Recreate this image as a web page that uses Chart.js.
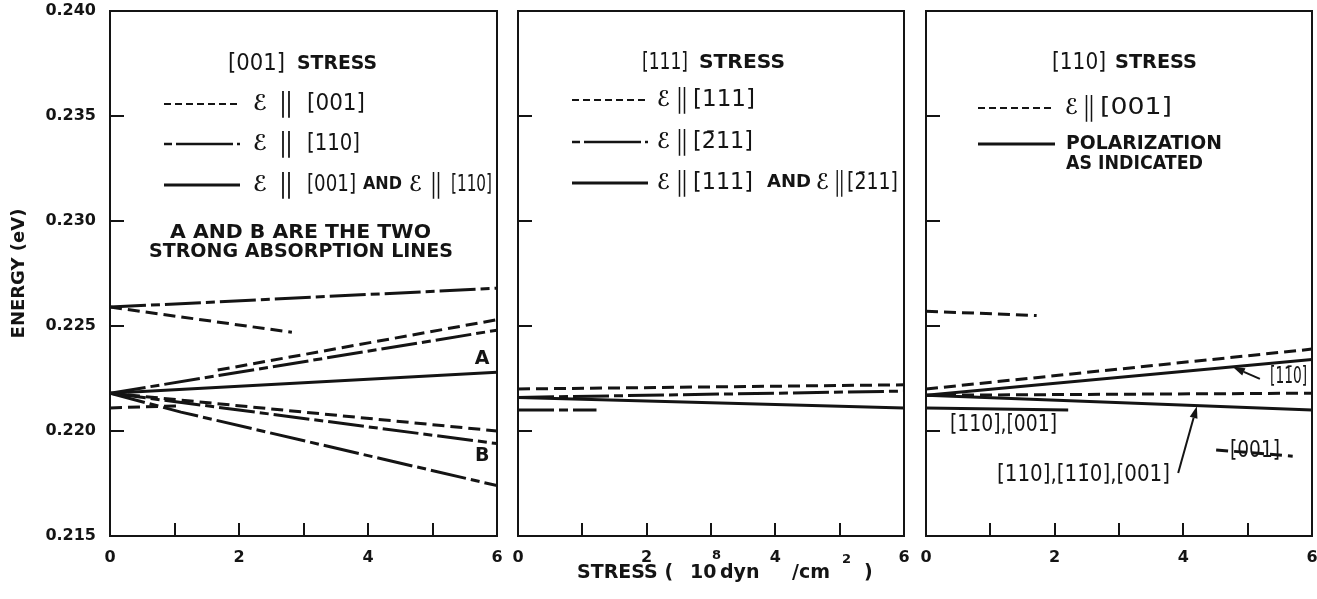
<!DOCTYPE html>
<html>
<head>
<meta charset="utf-8">
<script src="https://cdn.jsdelivr.net/npm/chart.js@4.4.1/dist/chart.umd.min.js"></script>
<style>
  html, body { margin: 0; padding: 0; background: #fff; }
  #wrap { position: relative; width: 1317px; height: 599px; overflow: hidden; background: #fff; }
  canvas { position: absolute; top: 0; }
</style>
</head>
<body>
<div id="wrap">
  <canvas id="p001" width="505" height="599" style="left:0px;width:505px;height:599px"></canvas>
  <canvas id="p111" width="410" height="599" style="left:505px;width:410px;height:599px"></canvas>
  <canvas id="p110" width="402" height="599" style="left:915px;width:402px;height:599px"></canvas>
</div>
<script>
// ---------- axes ----------
const stressTicks = [0, 1, 2, 3, 4, 5, 6];
const stressTickLabels = ['0', '', '2', '', '4', '', '6'];
const energyTicks = [0.215, 0.220, 0.225, 0.230, 0.235, 0.240];

// ---------- [001] stress: energy (eV) vs stress (10^8 dyn/cm^2) ----------
const s001ChainTopX = [0, 6];
const s001ChainTopY = [0.2259, 0.2268];
const s001DashTopX = [0, 2.82];
const s001DashTopY = [0.2259, 0.2247];
const s001DashRiseX = [1.67, 6];
const s001DashRiseY = [0.2229, 0.2253];
const s001ChainRiseX = [0, 6];
const s001ChainRiseY = [0.2218, 0.2248];
const s001LineAX = [0, 6];
const s001LineAY = [0.2218, 0.2228];
const s001DashLowX = [0, 1.1];
const s001DashLowY = [0.2211, 0.2212];
const s001DashFallX = [0, 6];
const s001DashFallY = [0.2218, 0.2200];
const s001LineBX = [0, 6];
const s001LineBY = [0.2218, 0.2194];
const s001ChainFallX = [0, 1.1, 6];
const s001ChainFallY = [0.2218, 0.2209, 0.2174];

// ---------- [111] stress ----------
const s111DashX = [0, 6];
const s111DashY = [0.2220, 0.2222];
const s111ChainX = [0, 6];
const s111ChainY = [0.2216, 0.2219];
const s111SolidX = [0, 6];
const s111SolidY = [0.2216, 0.2211];
const s111ChainShortX = [0, 1.22];
const s111ChainShortY = [0.2210, 0.2210];

// ---------- [110] stress ----------
const s110DashTopX = [0, 1.72];
const s110DashTopY = [0.2257, 0.2255];
const s110DashRiseX = [0, 6];
const s110DashRiseY = [0.2220, 0.2239];
const s110SolidRiseX = [0, 6];
const s110SolidRiseY = [0.2217, 0.2234];
const s110DashFlatX = [0, 6];
const s110DashFlatY = [0.2217, 0.2218];
const s110SolidFallX = [0, 6];
const s110SolidFallY = [0.2217, 0.2210];
const s110SolidShortX = [0, 2.21];
const s110SolidShortY = [0.2211, 0.2210];
const s110DashLowX = [4.51, 5.70];
const s110DashLowY = [0.2191, 0.2188];

// ---------- styling ----------
const INK = '#141414';
const DASH = [12, 6];
const CHAIN = [36, 5, 9, 5];
const SOLID = [];
const FONT = '"DejaVu Sans", "Liberation Sans", sans-serif';
const F_IDX = '23px ' + FONT;
const F_E = 'bold 22px ' + FONT;
const F_BAR = 'bold 27px ' + FONT;
const F_BOLD = 'bold 19px ' + FONT;
const F_AND = 'bold 17px ' + FONT;
const F_LABEL = '23px ' + FONT;

function series(xs, ys, dash) {
  return {
    data: xs.map((x, i) => ({ x: x, y: ys[i] })),
    borderColor: INK,
    borderWidth: 3,
    borderDash: dash,
    borderCapStyle: 'butt',
    pointRadius: 0,
    fill: false,
    tension: 0
  };
}

// text item: left edge x (page px), fitted to width w
function txt(t, x, w, y, font) { return { t, x, w, y, font, align: 'left' }; }
function ctr(t, x, w, y, font) { return { t, x, w, y, font, align: 'center' }; }

// draw a string horizontally fitted to a width
function fitText(ctx, t, x, y, w, align, font) {
  ctx.font = font;
  const m = ctx.measureText(t).width;
  const s = w ? w / m : 1;
  const left = align === 'center' ? x - (m * s) / 2 : x;
  ctx.save();
  ctx.translate(left, y);
  ctx.scale(s, 1);
  ctx.textAlign = 'left';
  ctx.textBaseline = 'middle';
  ctx.fillText(t, 0, 0);
  ctx.restore();
}

function decor(spec) {
  return {
    id: 'decor',
    afterDraw(chart) {
      const ctx = chart.ctx;
      const a = chart.chartArea;
      const xs = chart.scales.x;
      const ys = chart.scales.y;
      const off = spec.offset;
      const seg = (x1, y1, x2, y2) => { ctx.beginPath(); ctx.moveTo(x1, y1); ctx.lineTo(x2, y2); ctx.stroke(); };
      ctx.save();
      ctx.strokeStyle = INK;
      ctx.fillStyle = INK;
      ctx.setLineDash([]);
      ctx.lineWidth = 2;
      ctx.strokeRect(a.left, a.top, a.right - a.left, a.bottom - a.top);
      // inward tick marks
      energyTicks.slice(1, -1).forEach(v => {
        const py = Math.round(ys.getPixelForValue(v));
        seg(a.left, py, a.left + 14, py);
      });
      stressTicks.slice(1, -1).forEach(v => {
        const px = Math.round(xs.getPixelForValue(v));
        seg(px, a.bottom, px, a.bottom - 13);
      });
      // legend samples
      (spec.samples || []).forEach(s => {
        ctx.setLineDash(s.dash);
        ctx.lineWidth = s.w;
        seg(s.x1 - off, s.y, s.x2 - off, s.y);
      });
      ctx.setLineDash([]);
      // free text
      (spec.texts || []).forEach(t => fitText(ctx, t.t, t.x - off, t.y, t.w, t.align, t.font));
      // labels anchored in data space
      (spec.notes || []).forEach(n => {
        fitText(ctx, n.t, xs.getPixelForValue(n.x), ys.getPixelForValue(n.y), n.w, 'center', n.font);
      });
      // arrows in data space
      ctx.lineWidth = 2;
      (spec.arrows || []).forEach(r => {
        const x1 = xs.getPixelForValue(r.from[0]), y1 = ys.getPixelForValue(r.from[1]);
        const x2 = xs.getPixelForValue(r.to[0]), y2 = ys.getPixelForValue(r.to[1]);
        const ang = Math.atan2(y2 - y1, x2 - x1);
        const hl = 12, hw = 4;
        const bx = x2 - hl * Math.cos(ang), by = y2 - hl * Math.sin(ang);
        seg(x1, y1, bx, by);
        ctx.beginPath();
        ctx.moveTo(x2, y2);
        ctx.lineTo(bx + hw * Math.sin(ang), by - hw * Math.cos(ang));
        ctx.lineTo(bx - hw * Math.sin(ang), by + hw * Math.cos(ang));
        ctx.closePath();
        ctx.fill();
      });
      // composite text with superscripts
      (spec.rich || []).forEach(r => {
        ctx.textAlign = 'left';
        ctx.textBaseline = 'middle';
        r.forEach(p => {
          ctx.font = p.font;
          ctx.fillText(p.t, p.x - off, p.y);
        });
      });
      ctx.restore();
    }
  };
}

function panel(id, datasets, cfg) {
  return new Chart(document.getElementById(id), {
    type: 'line',
    data: { datasets: datasets },
    options: {
      responsive: false,
      animation: false,
      devicePixelRatio: 1,
      events: [],
      layout: { autoPadding: false, padding: { top: 11, right: cfg.padRight, bottom: 0, left: 0 } },
      plugins: { legend: { display: false }, tooltip: { enabled: false } },
      scales: {
        x: {
          type: 'linear', min: 0, max: 6,
          afterBuildTicks: s => { s.ticks = stressTicks.map(v => ({ value: v })); },
          afterFit: s => { s.height = 63; s.paddingLeft = 0; s.paddingRight = 0; },
          grid: { display: false },
          border: { display: false },
          ticks: {
            autoSkip: false, maxRotation: 0, padding: 4, color: INK,
            font: { family: FONT, size: 16, weight: 'bold' },
            callback: (v, i) => stressTickLabels[i]
          }
        },
        y: {
          type: 'linear', min: 0.215, max: 0.240,
          afterBuildTicks: s => { s.ticks = energyTicks.map(v => ({ value: v })); },
          afterFit: s => { s.width = cfg.yWidth; s.paddingTop = 0; s.paddingBottom = 0; },
          grid: { display: false },
          border: { display: false },
          title: {
            display: cfg.yTitle, text: 'ENERGY (eV)', color: INK,
            font: { family: FONT, size: 18, weight: 'bold' },
            padding: { top: 9, bottom: 0 }
          },
          ticks: {
            display: cfg.yLabels, padding: 6, color: INK,
            font: { family: FONT, size: 16, weight: 'bold' },
            callback: v => Number(v).toFixed(3)
          }
        }
      }
    },
    plugins: [decor(cfg.decor)]
  });
}

// ---------- [001] stress panel ----------
panel('p001', [
  series(s001ChainTopX, s001ChainTopY, CHAIN),
  series(s001DashTopX, s001DashTopY, DASH),
  series(s001DashRiseX, s001DashRiseY, DASH),
  series(s001ChainRiseX, s001ChainRiseY, CHAIN),
  series(s001LineAX, s001LineAY, SOLID),
  series(s001DashLowX, s001DashLowY, DASH),
  series(s001DashFallX, s001DashFallY, DASH),
  series(s001LineBX, s001LineBY, CHAIN),
  series(s001ChainFallX, s001ChainFallY, CHAIN)
], {
  padRight: 8, yWidth: 110, yLabels: true, yTitle: true,
  decor: {
    offset: 0,
    samples: [
      { x1: 164, x2: 240, y: 104, dash: [7, 4], w: 2 },
      { x1: 164, x2: 240, y: 144, dash: [8, 4, 57, 4], w: 2.5 },
      { x1: 164, x2: 240, y: 185, dash: [], w: 3 }
    ],
    texts: [
      txt('[001]', 228, 57, 64, F_IDX),
      txt('STRESS', 297, 80, 64, F_BOLD),
      txt('\u2130', 253, 14, 104, F_E), txt('||', 280, 12, 104, F_BAR), txt('[001]', 307, 58, 104, F_IDX),
      txt('\u2130', 253, 14, 144, F_E), txt('||', 280, 12, 144, F_BAR), txt('[110]', 307, 53, 144, F_IDX),
      txt('\u2130', 253, 14, 185, F_E), txt('||', 280, 12, 185, F_BAR), txt('[001]', 307, 49, 185, F_IDX),
      txt('AND', 363, 39, 185, F_AND),
      txt('\u2130', 409, 13, 185, F_E), txt('||', 431, 10, 185, F_BAR), txt('[110]', 451, 41, 185, F_IDX),
      ctr('A AND B ARE THE TWO', 300.5, 261, 233, F_BOLD),
      ctr('STRONG ABSORPTION LINES', 301, 304, 252, F_BOLD)
    ],
    notes: [
      { t: 'A', x: 5.77, y: 0.22343, font: F_BOLD },
      { t: 'B', x: 5.77, y: 0.21881, font: F_BOLD }
    ]
  }
});

// ---------- [111] stress panel ----------
panel('p111', [
  series(s111DashX, s111DashY, DASH),
  series(s111ChainX, s111ChainY, CHAIN),
  series(s111SolidX, s111SolidY, SOLID),
  series(s111ChainShortX, s111ChainShortY, CHAIN)
], {
  padRight: 11, yWidth: 13, yLabels: false, yTitle: false,
  decor: {
    offset: 505,
    samples: [
      { x1: 572, x2: 648, y: 100, dash: [7, 4], w: 2 },
      { x1: 572, x2: 648, y: 142, dash: [8, 4, 57, 4], w: 2.5 },
      { x1: 572, x2: 648, y: 183, dash: [], w: 3 }
    ],
    texts: [
      txt('[111]', 642, 46, 63, F_IDX),
      txt('STRESS', 699, 86, 63, F_BOLD),
      txt('\u2130', 657, 13, 100, F_E), txt('||', 677, 10, 100, F_BAR), txt('[111]', 693, 62, 100, F_IDX),
      txt('\u2130', 657, 13, 142, F_E), txt('||', 677, 10, 142, F_BAR), txt('[2\u030411]', 693, 60, 142, F_IDX),
      txt('\u2130', 657, 13, 183, F_E), txt('||', 677, 10, 183, F_BAR), txt('[111]', 693, 60, 183, F_IDX),
      txt('AND', 767, 44, 183, F_AND),
      txt('\u2130', 816, 13, 183, F_E), txt('||', 835, 9, 183, F_BAR), txt('[2\u030411]', 847, 51, 183, F_IDX)
    ],
    rich: [[
      { t: 'STRESS (', x: 577, y: 573, font: 'bold 19px ' + FONT },
      { t: '10', x: 690, y: 573, font: 'bold 19px ' + FONT },
      { t: '8', x: 712, y: 556, font: 'bold 13px ' + FONT },
      { t: 'dyn', x: 720, y: 573, font: 'bold 19px ' + FONT },
      { t: '/cm', x: 792, y: 573, font: 'bold 19px ' + FONT },
      { t: '2', x: 842, y: 560, font: 'bold 13px ' + FONT },
      { t: ')', x: 864, y: 573, font: 'bold 19px ' + FONT }
    ]]
  }
});

// ---------- [110] stress panel ----------
panel('p110', [
  series(s110DashTopX, s110DashTopY, DASH),
  series(s110DashRiseX, s110DashRiseY, DASH),
  series(s110SolidRiseX, s110SolidRiseY, SOLID),
  series(s110DashFlatX, s110DashFlatY, DASH),
  series(s110SolidFallX, s110SolidFallY, SOLID),
  series(s110SolidShortX, s110SolidShortY, SOLID),
  series(s110DashLowX, s110DashLowY, DASH)
], {
  padRight: 5, yWidth: 11, yLabels: false, yTitle: false,
  decor: {
    offset: 915,
    samples: [
      { x1: 978, x2: 1055, y: 108, dash: [7, 4], w: 2 },
      { x1: 978, x2: 1055, y: 144, dash: [], w: 3 }
    ],
    texts: [
      txt('[110]', 1052, 54, 63, F_IDX),
      txt('STRESS', 1115, 82, 63, F_BOLD),
      txt('\u2130', 1065, 13, 108, F_E), txt('||', 1084, 10, 108, F_BAR), txt('[001]', 1100, 72, 108, F_IDX),
      txt('POLARIZATION', 1066, 156, 144, F_BOLD),
      txt('AS INDICATED', 1066, 137, 164, F_BOLD)
    ],
    notes: [
      { t: '[11\u03040]', x: 5.635, y: 0.22257, w: 37, font: F_LABEL },
      { t: '[110],[001]', x: 1.205, y: 0.22029, w: 107, font: F_LABEL },
      { t: '[110],[11\u03040],[001]', x: 2.448, y: 0.21790, w: 173, font: F_LABEL },
      { t: '[001]', x: 5.114, y: 0.21905, w: 50, font: F_LABEL }
    ],
    arrows: [
      { from: [5.19, 0.22248], to: [4.77, 0.22305] },
      { from: [3.92, 0.21800], to: [4.21, 0.22118] }
    ]
  }
});
</script>
</body>
</html>
